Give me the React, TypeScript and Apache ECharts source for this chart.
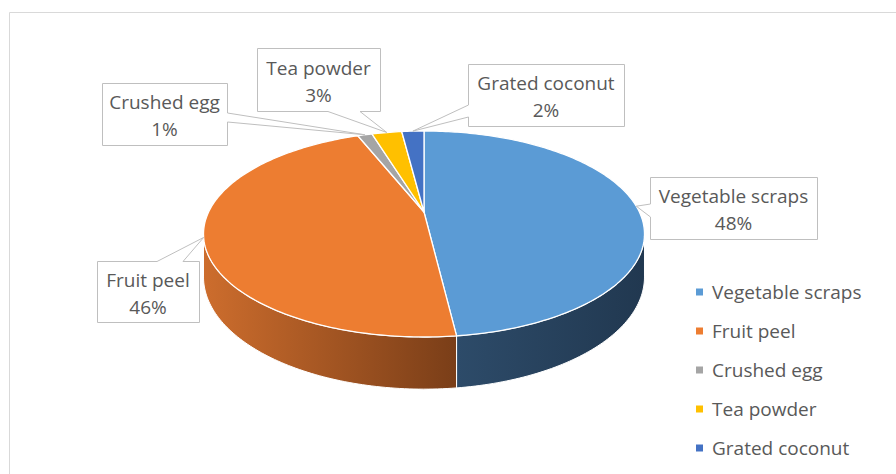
import React, { useEffect, useRef } from "react";
import * as echarts from "echarts";

// ---- data ----
const categories = ["Vegetable scraps", "Fruit peel", "Crushed egg", "Tea powder", "Grated coconut"];
const shares = [48.1, 45.9, 1.3, 2.7, 2.0];

// ---- styles ----
const topColors = ["#5B9BD5", "#ED7D31", "#A5A5A5", "#FFC000", "#4472C4"];
const sideColors = [
  ["#2D4B69", "#213850"],
  ["#CD6D2D", "#7A3E18"],
  ["#7A7A7A", "#555555"],
  ["#C09000", "#806000"],
  ["#2F528F", "#203864"],
];
const FONT = "'Open Sans', 'Noto Sans', sans-serif";
const TEXT_COLOR = "#595959";

// ---- layout (3D pie geometry) ----
const CX = 424;
const CY = 212;
const RX = 215.4;
const RY = 98.3;
const PERSP = 0.2136;
const DEPTH = 41;

// callout boxes (layout only)
const labelBoxes = [
  { x: 650, y: 177, w: 167, h: 62, side: "left", n1: 204, n2: 217 },
  { x: 97, y: 261, w: 102, h: 61, side: "top", n1: 157, n2: 183 },
  { x: 102, y: 83, w: 125, h: 62, side: "right", n1: 113, n2: 122 },
  { x: 257, y: 48, w: 123, h: 63, side: "bottom", n1: 328, n2: 360 },
  { x: 468, y: 64, w: 156, h: 62, side: "left", n1: 105, n2: 117 },
];

const TAU = Math.PI * 2;
const total = shares.reduce((a, b) => a + b, 0);
const startAngles: number[] = [];
{
  let acc = 0;
  for (let i = 0; i < shares.length; i++) {
    startAngles.push((acc / total) * TAU);
    acc += shares[i];
  }
}

function proj(theta: number, drop: number): number[] {
  const x3 = Math.sin(theta);
  const z3 = -Math.cos(theta);
  const s = 1 / (1 - PERSP * z3);
  return [CX + RX * x3 * s, CY + (RY * z3 + drop) * s];
}

function arcPts(a: number, b: number, drop: number): number[][] {
  const n = Math.max(2, Math.ceil(((b - a) / TAU) * 360));
  const pts: number[][] = [];
  for (let k = 0; k <= n; k++) {
    pts.push(proj(a + ((b - a) * k) / n, drop));
  }
  return pts;
}

const TH_A = Math.acos(-PERSP);
const TH_B = TAU - TH_A;

function calloutPoints(b: any, tip: number[]): number[][] {
  const x = b.x + 0.5, y = b.y + 0.5, r = b.x + b.w + 0.5, btm = b.y + b.h + 0.5;
  switch (b.side) {
    case "left":
      return [[x, y], [r, y], [r, btm], [x, btm], [x, b.n2], tip, [x, b.n1]];
    case "right":
      return [[x, y], [r, y], [r, b.n1], tip, [r, b.n2], [r, btm], [x, btm]];
    case "top":
      return [[x, y], [b.n1, y], tip, [b.n2, y], [r, y], [r, btm], [x, btm]];
    default:
      return [[x, y], [r, y], [r, btm], [b.n2, btm], tip, [b.n1, btm], [x, btm]];
  }
}

export default function App() {
  const ref = useRef<HTMLDivElement>(null);

  useEffect(() => {
    document.body.style.margin = "0";
    if (!ref.current) return;
    const chart = echarts.init(ref.current, undefined, { renderer: "svg" });

    const option: any = {
      animation: false,
      backgroundColor: "#FFFFFF",
      graphic: [
        {
          type: "rect",
          silent: true,
          z: -10,
          shape: { x: 9.5, y: 12.5, width: 1200, height: 1000 },
          style: { fill: "none", stroke: "#D9D9D9", lineWidth: 1 },
        },
      ],
      legend: {
        orient: "vertical",
        left: 691,
        top: 277,
        itemWidth: 7,
        itemHeight: 7,
        itemGap: 19,
        icon: "rect",
        selectedMode: false,
        textStyle: {
          color: TEXT_COLOR,
          fontSize: 19,
          fontFamily: FONT,
          lineHeight: 20,
          padding: [0, 0, 0, 4],
        },
        data: categories,
      },
      series: [
        {
          type: "pie",
          name: "legend-proxy",
          silent: true,
          radius: [0, 0],
          center: [CX, CY],
          label: { show: false },
          labelLine: { show: false },
          data: categories.map((c, i) => ({
            name: c,
            value: shares[i],
            itemStyle: { color: topColors[i] },
          })),
        },
        {
          type: "custom",
          coordinateSystem: "none",
          silent: true,
          data: shares.map((v) => [v]),
          renderItem: (params: any, api: any) => {
            const i = params.dataIndex;
            const v = api.value(0) as number;
            const s = startAngles[i];
            const e = s + (v / total) * TAU;
            const children: any[] = [];

            const a = Math.max(s, TH_A);
            const b = Math.min(e, TH_B);
            if (b > a) {
              const top = arcPts(a, b, 0);
              const bot = arcPts(a, b, DEPTH).reverse();
              children.push({
                type: "polygon",
                z2: 1,
                shape: { points: top.concat(bot) },
                style: {
                  fill: new echarts.graphic.LinearGradient(0, 0, 1, 0, [
                    { offset: 0, color: sideColors[i][0] },
                    { offset: 1, color: sideColors[i][1] },
                  ]),
                  stroke: "#FFFFFF",
                  lineWidth: 1,
                },
              });
            }

            children.push({
              type: "polygon",
              z2: 2,
              shape: { points: [[CX, CY]].concat(arcPts(s, e, 0)) },
              style: {
                fill: topColors[i],
                stroke: "#FFFFFF",
                lineWidth: 1.3,
                lineJoin: "round",
              },
            });

            const mid = (s + e) / 2;
            const tip = proj(mid, 0);
            const box = labelBoxes[i];
            children.push({
              type: "polygon",
              z2: 10,
              shape: { points: calloutPoints(box, tip) },
              style: { fill: "#FFFFFF", stroke: "#BFBFBF", lineWidth: 1 },
            });
            children.push({
              type: "text",
              z2: 11,
              style: {
                x: box.x + box.w / 2,
                y: box.y + box.h / 2 + 1.5,
                text: categories[i] + "\n" + Math.round((v / total) * 100) + "%",
                fill: TEXT_COLOR,
                fontSize: 19,
                fontFamily: FONT,
                lineHeight: 27,
                align: "center",
                verticalAlign: "middle",
              },
            });

            return { type: "group", children };
          },
        },
      ],
    };

    chart.setOption(option);
    return () => {
      chart.dispose();
    };
  }, []);

  return <div ref={ref} style={{ width: 896, height: 474 }} />;
}
